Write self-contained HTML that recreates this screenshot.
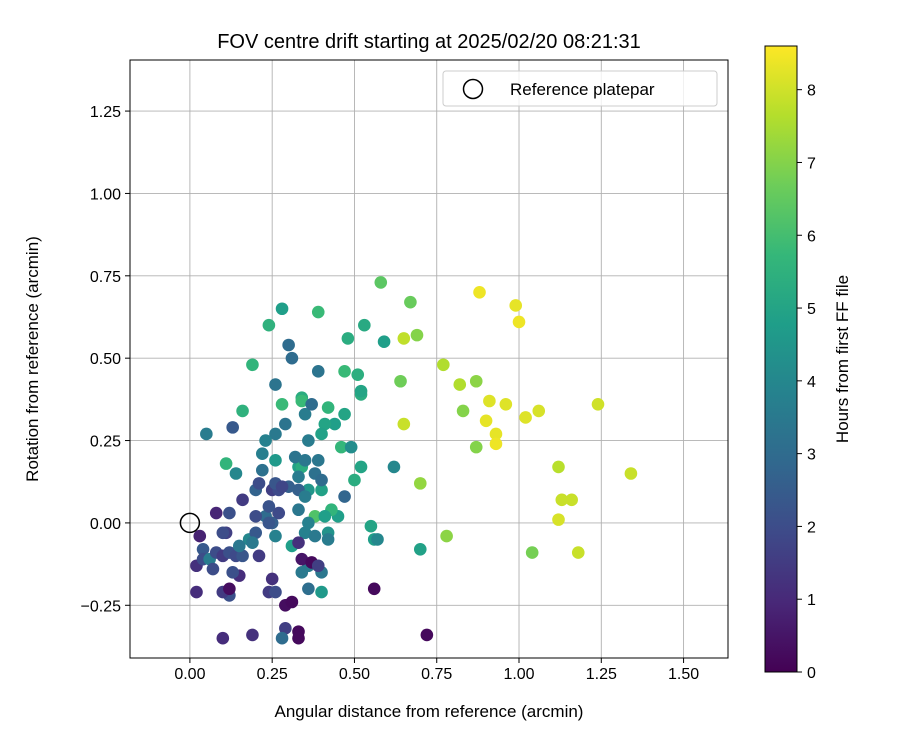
<!DOCTYPE html>
<html><head><meta charset="utf-8"><style>
body{margin:0;background:#fff;}
svg text{font-family:"Liberation Sans","DejaVu Sans",sans-serif;fill:#000;}
</style></head><body>
<svg id="c" width="900" height="750"></svg>
<script>
const xTicks=[0,0.25,0.5,0.75,1.0,1.25,1.5];
const xTickLabels=["0.00","0.25","0.50","0.75","1.00","1.25","1.50"];
const yTicks=[-0.25,0,0.25,0.5,0.75,1.0,1.25];
const yTickLabels=["\u22120.25","0.00","0.25","0.50","0.75","1.00","1.25"];
const cbTicks=[0,1,2,3,4,5,6,7,8];
const ptX=[0.88,0.99,1.00,0.91,0.90,0.93,0.93,0.96,1.02,1.06,1.24,1.34,1.12,1.13,1.16,1.12,1.18,0.82,0.77,0.65,0.65,0.87,0.83,0.87,0.70,0.64,0.69,0.67,0.58,0.78,1.04,
0.39,0.28,0.24,0.53,0.48,0.59,0.51,0.47,0.52,0.52,0.42,0.34,0.34,0.28,0.47,0.44,0.41,0.40,0.46,0.49,0.52,0.50,0.45,0.43,0.38,0.55,0.56,0.70,0.40,0.19,0.16,0.11,0.33,0.34,0.36,0.40,0.62,0.57,0.31,0.26,0.41,0.42,
0.30,0.31,0.26,0.39,0.35,0.37,0.29,0.26,0.23,0.22,0.22,0.36,0.32,0.35,0.39,0.38,0.40,0.33,0.33,0.35,0.30,0.33,0.36,0.35,0.38,0.36,0.40,0.36,0.42,0.47,0.26,0.25,0.20,0.21,0.18,0.14,0.05,0.13,0.12,0.34,0.23,
0.03,0.02,0.04,0.04,0.06,0.07,0.08,0.10,0.12,0.14,0.15,0.13,0.16,0.11,0.12,0.08,0.16,0.15,0.10,0.20,0.21,0.19,0.20,0.24,0.25,0.27,0.26,0.28,0.27,0.24,0.25,0.24,0.26,0.29,0.31,0.29,0.33,0.33,0.28,0.10,0.19,0.10,0.12,0.02,0.34,0.37,0.39,0.56,0.72,0.33];
const ptY=[0.70,0.66,0.61,0.37,0.31,0.27,0.24,0.36,0.32,0.34,0.36,0.15,0.17,0.07,0.07,0.01,-0.09,0.42,0.48,0.56,0.30,0.43,0.34,0.23,0.12,0.43,0.57,0.67,0.73,-0.04,-0.09,
0.64,0.65,0.60,0.60,0.56,0.55,0.45,0.46,0.39,0.40,0.35,0.38,0.37,0.36,0.33,0.30,0.30,0.27,0.23,0.23,0.17,0.13,0.02,0.04,0.02,-0.01,-0.05,-0.08,-0.21,0.48,0.34,0.18,0.17,0.17,0.10,0.10,0.17,-0.05,-0.07,0.19,0.02,-0.03,
0.54,0.50,0.42,0.46,0.33,0.36,0.30,0.27,0.25,0.21,0.16,0.25,0.20,0.19,0.19,0.15,0.13,0.14,0.10,0.08,0.11,0.04,0.00,-0.03,-0.04,-0.13,-0.15,-0.20,-0.05,0.08,-0.04,0.00,0.10,0.12,-0.05,0.15,0.27,0.29,-0.22,-0.15,0.02,
-0.04,-0.13,-0.08,-0.11,-0.11,-0.14,-0.09,-0.10,-0.09,-0.10,-0.16,-0.15,-0.10,-0.03,0.03,0.03,0.07,-0.07,-0.03,-0.03,-0.10,-0.06,0.02,0.00,0.10,0.10,0.12,0.11,0.03,0.05,-0.17,-0.21,-0.21,-0.25,-0.24,-0.32,-0.33,-0.35,-0.35,-0.35,-0.34,-0.21,-0.20,-0.21,-0.11,-0.12,-0.13,-0.20,-0.34,-0.06];
const ptH=[8.4,8.3,8.4,8.2,8.3,8.3,8.4,8.2,8.2,8.1,8.0,7.9,7.7,7.9,7.9,8.1,7.9,7.6,7.6,7.8,7.9,7.1,7.0,7.0,7.2,6.7,7.0,6.6,6.4,7.1,6.8,
5.8,4.8,5.5,5.2,5.3,4.8,5.4,5.8,5.3,5.0,5.6,5.3,5.8,5.8,5.0,4.8,5.0,4.9,5.7,4.2,5.0,5.3,4.8,5.6,6.2,5.0,4.8,4.9,4.6,5.6,5.5,5.6,4.9,5.3,4.5,4.9,4.0,4.0,4.8,4.6,4.8,4.4,
3.0,3.0,3.3,3.3,3.6,3.0,3.3,3.5,3.8,3.7,3.2,3.6,3.3,3.4,3.4,3.2,3.0,3.6,2.6,3.6,2.6,3.4,3.8,3.8,3.5,3.6,3.4,3.1,3.6,2.8,3.8,2.6,2.7,2.0,4.0,4.0,3.6,2.4,2.1,3.5,3.0,
0.8,1.2,2.4,2.0,3.6,2.0,2.0,1.5,2.1,1.9,1.1,2.1,2.3,1.6,2.1,0.9,1.5,3.4,2.0,2.4,1.5,3.5,2.0,2.3,1.6,1.9,2.3,1.8,1.9,2.2,1.2,1.5,2.0,0.3,0.2,1.6,0.2,0.2,3.0,1.1,1.2,1.5,0.3,1.1,0.5,0.2,1.6,0.2,0.2,1.2];

const L=130,R=728,T=60,B=658;
const xMin=-0.182,xMax=1.635,yMin=-0.41,yMax=1.405;
const sx=v=>L+(v-xMin)/(xMax-xMin)*(R-L);
const sy=v=>B-(v-yMin)/(yMax-yMin)*(B-T);
const cbT=46,cbB=672,cbMax=8.6;
const scb=v=>cbB-v/cbMax*(cbB-cbT);
const vir=[[68,1,84],[72,40,120],[62,74,137],[49,104,142],[38,130,142],[31,158,137],[53,183,121],[109,205,89],[180,222,44],[253,231,37]];
function col(h){let t=Math.max(0,Math.min(1,h/cbMax))*(vir.length-1);let i=Math.min(vir.length-2,Math.floor(t)),f=t-i;
const c=vir[i].map((a,k)=>Math.round(a+(vir[i+1][k]-a)*f));return `rgb(${c})`;}
const svg=document.getElementById('c');const NS='http://www.w3.org/2000/svg';
function el(tag,attrs,txt){const e=document.createElementNS(NS,tag);for(const k in attrs)e.setAttribute(k,attrs[k]);if(txt!=null)e.textContent=txt;svg.appendChild(e);return e;}
let e;
xTicks.forEach((v,i)=>{e=el('line',{x1:sx(v),x2:sx(v),y1:T,y2:B,stroke:'#b0b0b0','stroke-width':0.9});
e=el('line',{x1:sx(v),x2:sx(v),y1:B,y2:B+5,stroke:'#000'});
e=el('text',{x:sx(v),y:B+21,'text-anchor':'middle','font-size':16},xTickLabels[i]);});
yTicks.forEach((v,i)=>{e=el('line',{x1:L,x2:R,y1:sy(v),y2:sy(v),stroke:'#b0b0b0','stroke-width':0.9});
e=el('line',{x1:L-5,x2:L,y1:sy(v),y2:sy(v),stroke:'#000'});
e=el('text',{x:L-9,y:sy(v)+6,'text-anchor':'end','font-size':16},yTickLabels[i]);});
ptX.forEach((x,i)=>{e=el('circle',{cx:sx(x),cy:sy(ptY[i]),r:6.3,fill:col(ptH[i])});});
e=el('circle',{cx:sx(0),cy:sy(0),r:9.5,fill:'none',stroke:'#000','stroke-width':1.5});
e=el('rect',{x:L,y:T,width:R-L,height:B-T,fill:'none',stroke:'#000','stroke-width':1});
e=el('rect',{x:443,y:71,width:274,height:35,rx:3,fill:'#fff','fill-opacity':0.8,stroke:'#ccc'});
e=el('circle',{cx:473,cy:89,r:9.5,fill:'none',stroke:'#000','stroke-width':1.5});
e=el('text',{x:510,y:95,'font-size':17},'Reference platepar');
e=el('text',{x:429,y:48,'text-anchor':'middle','font-size':20},'FOV centre drift starting at 2025/02/20 08:21:31');
e=el('text',{x:429,y:717,'text-anchor':'middle','font-size':17},'Angular distance from reference (arcmin)');
e=el('text',{x:0,y:0,'text-anchor':'middle','font-size':17,transform:`translate(38,359) rotate(-90)`},'Rotation from reference (arcmin)');
const defs=el('defs',{});const g=document.createElementNS(NS,'linearGradient');g.setAttribute('id','vg');g.setAttribute('x1','0');g.setAttribute('y1','1');g.setAttribute('x2','0');g.setAttribute('y2','0');
vir.forEach((c,i)=>{const s=document.createElementNS(NS,'stop');s.setAttribute('offset',i/(vir.length-1));s.setAttribute('stop-color',`rgb(${c})`);g.appendChild(s);});defs.appendChild(g);
e=el('rect',{x:765,y:cbT,width:32,height:cbB-cbT,fill:'url(#vg)',stroke:'#000','stroke-width':1});
cbTicks.forEach(v=>{e=el('line',{x1:797,x2:802,y1:scb(v),y2:scb(v),stroke:'#000'});
e=el('text',{x:807,y:scb(v)+6,'font-size':16},String(v));});
e=el('text',{x:0,y:0,'text-anchor':'middle','font-size':17,transform:`translate(848,359) rotate(-90)`},'Hours from first FF file');
</script>
</body></html>
